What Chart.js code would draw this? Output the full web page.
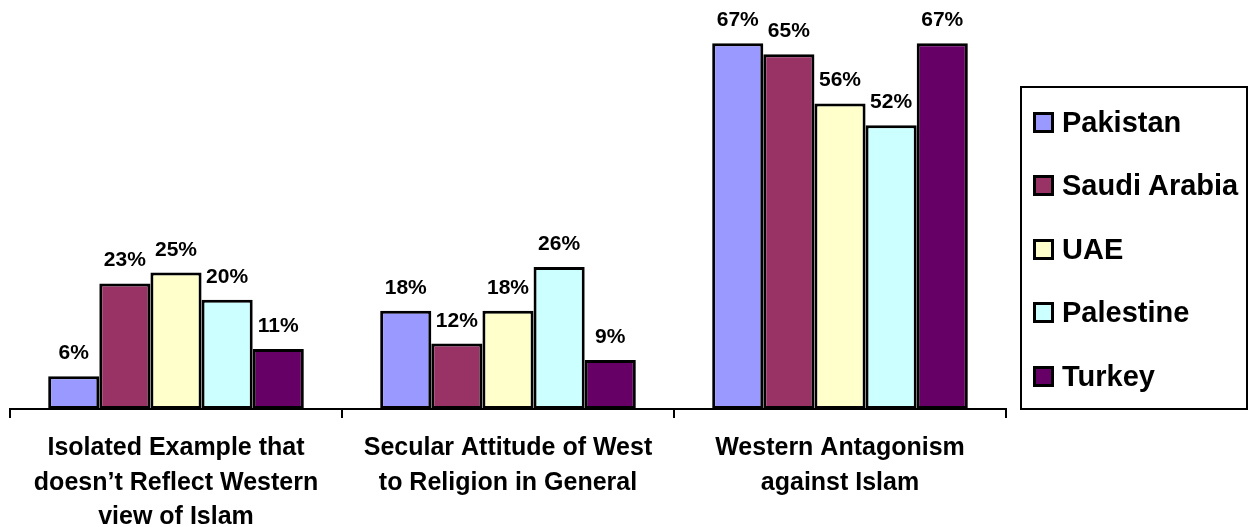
<!DOCTYPE html>
<html>
<head>
<meta charset="utf-8">
<script src="https://cdn.jsdelivr.net/npm/chart.js@4/dist/chart.umd.min.js"></script>
<style>
  html, body { margin: 0; padding: 0; background: #fff; }
  body { width: 1254px; height: 527px; position: relative; overflow: hidden; font-family: "Liberation Sans", Arial, sans-serif; }
  #chart { position: absolute; left: 0; top: 0; }
  #legend { position: absolute; left: 1020px; top: 86px; width: 224px; height: 320px; border: 2px solid #000; box-sizing: content-box; }
  .item { position: absolute; left: 11px; height: 24px; display: flex; align-items: center; font-weight: bold; font-size: 29px; color: #000; white-space: nowrap; }
  .swatch { width: 15px; height: 15px; border: 3px solid #000; margin-right: 8px; flex: none; }
</style>
</head>
<body>
<canvas id="chart" width="1254" height="527"></canvas>
<div id="legend"></div>
<script>
// Survey response categories (x-axis), split into display lines
const categories = [
  ["Isolated Example that", "doesn\u2019t Reflect Western", "view of Islam"],
  ["Secular Attitude of West", "to Religion in General"],
  ["Western Antagonism", "against Islam"]
];

// Percentage of respondents per country
const pakistan    = [6, 18, 67];
const saudiArabia = [23, 12, 65];
const uae         = [25, 18, 56];
const palestine   = [20, 26, 52];
const turkey      = [11, 9, 67];

const seriesNames  = ["Pakistan", "Saudi Arabia", "UAE", "Palestine", "Turkey"];
const seriesValues = [pakistan, saudiArabia, uae, palestine, turkey];
const seriesColors = ["#9999FF", "#993366", "#FFFFCC", "#CCFFFF", "#660066"];

const FONT = '"Liberation Sans", Arial, sans-serif';

// Percentage labels drawn above each bar
const valueLabels = {
  id: 'valueLabels',
  afterDatasetsDraw(chart) {
    const ctx = chart.ctx;
    ctx.save();
    ctx.font = 'bold 21px ' + FONT;
    ctx.fillStyle = '#000';
    ctx.textAlign = 'center';
    ctx.textBaseline = 'alphabetic';
    chart.data.datasets.forEach((ds, di) => {
      const meta = chart.getDatasetMeta(di);
      meta.data.forEach((bar, i) => {
        ctx.fillText(ds.data[i] + '%', bar.x, bar.y - 17);
      });
    });
    ctx.restore();
  }
};

const chart = new Chart(document.getElementById('chart'), {
  type: 'bar',
  data: {
    labels: categories,
    datasets: seriesNames.map((name, i) => ({
      label: name,
      data: seriesValues[i],
      backgroundColor: seriesColors[i],
      borderColor: '#000',
      borderWidth: 3,
      borderSkipped: false,
      categoryPercentage: 0.77,
      barPercentage: 1.0
    }))
  },
  options: {
    responsive: false,
    animation: false,
    devicePixelRatio: 1,
    layout: { padding: { left: 10, right: 248, top: 27, bottom: 0 } },
    plugins: {
      legend: { display: false },
      tooltip: { enabled: false }
    },
    scales: {
      x: {
        grid: {
          offset: true,
          drawOnChartArea: false,
          drawTicks: true,
          tickLength: 9,
          color: '#000',
          lineWidth: 2
        },
        border: { display: true, color: '#000', width: 2 },
        ticks: {
          color: '#000',
          padding: 13,
          maxRotation: 0,
          autoSkip: false,
          font: { family: FONT, size: 25, weight: 'bold', lineHeight: 1.38 }
        },
        afterFit(scale) { scale.height = 118; }
      },
      y: {
        display: false,
        min: 0,
        max: 70
      }
    }
  },
  plugins: [valueLabels]
});

// Boxed legend on the right
const legend = document.getElementById('legend');
seriesNames.forEach((name, i) => {
  const row = document.createElement('div');
  row.className = 'item';
  row.style.top = (22 + i * 63.5) + 'px';
  const sw = document.createElement('span');
  sw.className = 'swatch';
  sw.style.background = seriesColors[i];
  const tx = document.createElement('span');
  tx.textContent = name;
  row.appendChild(sw);
  row.appendChild(tx);
  legend.appendChild(row);
});
</script>
</body>
</html>
